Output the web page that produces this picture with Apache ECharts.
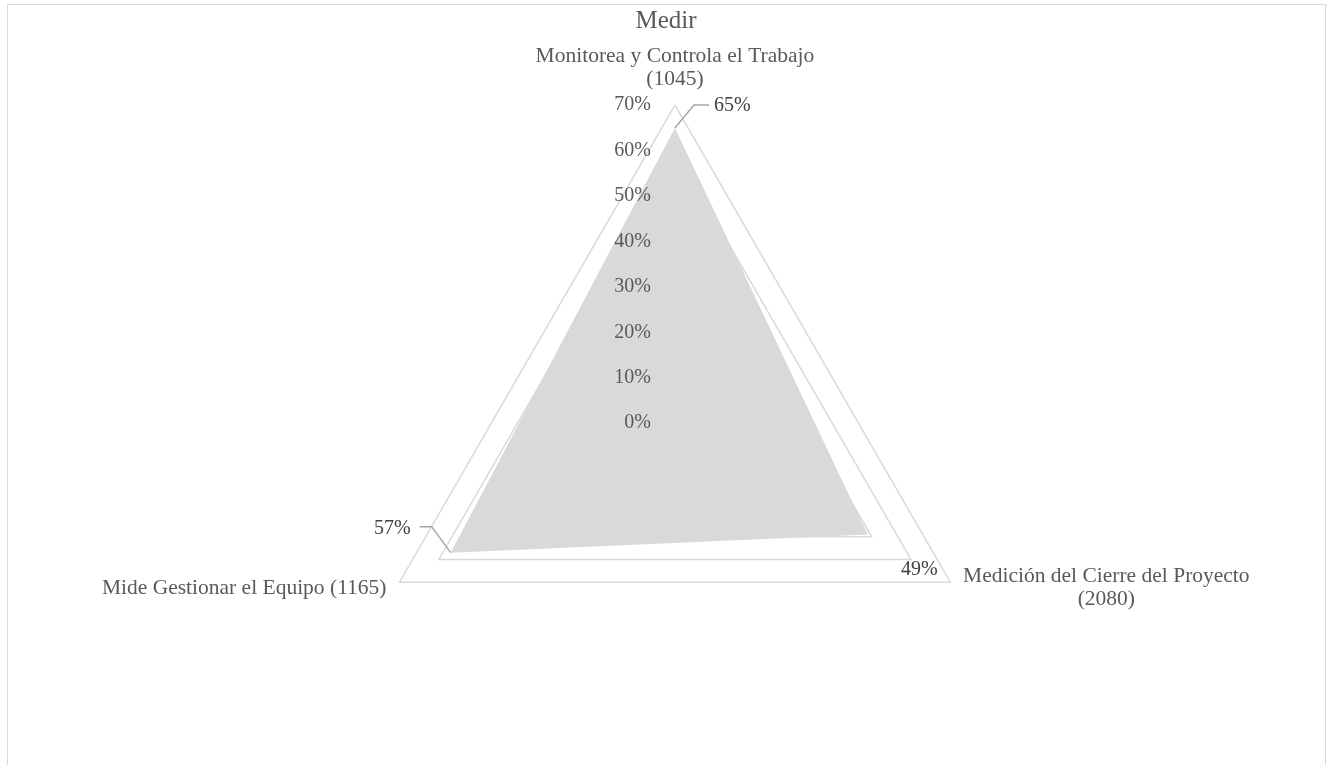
<!DOCTYPE html>
<html>
<head>
<meta charset="utf-8">
<script src="https://cdn.jsdelivr.net/npm/echarts@6/dist/echarts.min.js"></script>
<style>
  html, body { margin: 0; padding: 0; background: #fff; overflow: hidden; }
  #chart { position: absolute; left: 0; top: 0; width: 1327px; height: 765px; }
  #frame { position: absolute; left: 7px; top: 4px; width: 1319px; height: 820px;
           border: 1.5px solid #d9d9d9; box-sizing: border-box; pointer-events: none; }
</style>
</head>
<body>
<div id="chart"></div>
<div id="frame"></div>
<script>
// Chart content
const chartTitle = 'Medir';
const indicatorNames = [
  'Monitorea y Controla el Trabajo\n(1045)',
  'Mide Gestionar el Equipo (1165)',
  'Medición del Cierre del Proyecto\n(2080)'
];
const shareValues = [65, 57, 49];   // percent
const axisMin = 0;
const axisMax = 70;
const axisSplits = 7;

const FONT = '"Liberation Serif", "Times New Roman", serif';
const GRID = '#d9d9d9';
const AXIS_TEXT = '#595959';
const LABEL_TEXT = '#404040';
const LEADER = '#a6a6a6';

const RADAR_CENTER = ['50.86%', '55.32%'];
const RADAR_RADIUS = 318;

const indicators = indicatorNames.map((n) => ({ name: n, min: axisMin, max: axisMax }));

const chart = echarts.init(document.getElementById('chart'), null, { renderer: 'canvas' });

chart.setOption({
  backgroundColor: '#fff',
  animation: false,
  title: {
    text: chartTitle,
    left: 661,
    textAlign: 'center',
    top: 4,
    textStyle: { fontFamily: FONT, fontSize: 25, fontWeight: 'normal', color: AXIS_TEXT }
  },
  radar: [
    // grid polygons, drawn below the filled area
    {
      z: 0,
      center: RADAR_CENTER, radius: RADAR_RADIUS, shape: 'polygon', startAngle: 90,
      splitNumber: axisSplits,
      indicator: indicators,
      axisName: { show: false },
      axisLine: { show: false },
      axisTick: { show: false },
      axisLabel: { show: false },
      splitArea: { show: false },
      splitLine: { lineStyle: { color: GRID, width: 1.5 } }
    },
    // percentage tick labels on the vertical axis, drawn over the filled area
    {
      z: 5,
      center: RADAR_CENTER, radius: RADAR_RADIUS, shape: 'polygon', startAngle: 90,
      splitNumber: axisSplits,
      indicator: indicators.map((ind, i) => Object.assign({}, ind, { axisLabel: { show: i === 0 } })),
      axisName: { show: false },
      axisLine: { show: false },
      axisTick: { show: false },
      splitArea: { show: false },
      splitLine: { show: false },
      axisLabel: {
        show: true,
        formatter: '{value}%',
        fontFamily: FONT,
        fontSize: 20,
        color: AXIS_TEXT,
        margin: 24,
        padding: [4, 0, 0, 0]
      }
    }
  ],
  series: [{
    type: 'radar',
    radarIndex: 0,
    z: 2,
    symbol: 'none',
    lineStyle: { width: 0, opacity: 0 },
    areaStyle: { color: '#d9d9d9', opacity: 1 },
    data: [{ value: shareValues, name: chartTitle }]
  }]
});

// Category names and value labels, placed from the radar's own scale
const radarCS = chart.getModel().getComponent('radar', 0).coordinateSystem;
const vtx = shareValues.map((v, i) => radarCS.dataToPoint(v, i));
const end = indicatorNames.map((_, i) => radarCS.dataToPoint(axisMax, i));

const nameStyle = { fontFamily: FONT, fontSize: 21.5, fill: AXIS_TEXT, lineHeight: 23 };
const valStyle = { fontFamily: FONT, fontSize: 20, fill: LABEL_TEXT };

const graphics = [
  // indicator names
  { type: 'text', x: end[0][0], y: end[0][1] - 14,
    style: Object.assign({ text: indicatorNames[0], align: 'center', verticalAlign: 'bottom' }, nameStyle) },
  { type: 'text', x: end[1][0] - 13, y: end[1][1] + 6,
    style: Object.assign({ text: indicatorNames[1], align: 'right', verticalAlign: 'middle' }, nameStyle) },
  { type: 'text', x: end[2][0] + 156, y: end[2][1] - 17,
    style: Object.assign({ text: indicatorNames[2], align: 'center', verticalAlign: 'top' }, nameStyle) },

  // value labels with leader lines
  { type: 'polyline', shape: { points: [vtx[0], [vtx[0][0] + 19, vtx[0][1] - 23], [vtx[0][0] + 34, vtx[0][1] - 23]] },
    style: { stroke: LEADER, lineWidth: 1.5, fill: null } },
  { type: 'text', x: vtx[0][0] + 39, y: vtx[0][1] - 22,
    style: Object.assign({ text: shareValues[0] + '%', align: 'left', verticalAlign: 'middle' }, valStyle) },

  { type: 'polyline', shape: { points: [vtx[1], [vtx[1][0] - 19, vtx[1][1] - 26], [vtx[1][0] - 31, vtx[1][1] - 26]] },
    style: { stroke: LEADER, lineWidth: 1.5, fill: null } },
  { type: 'text', x: vtx[1][0] - 40, y: vtx[1][1] - 24,
    style: Object.assign({ text: shareValues[1] + '%', align: 'right', verticalAlign: 'middle' }, valStyle) },

  { type: 'text', x: vtx[2][0] + 70, y: vtx[2][1] + 35,
    style: Object.assign({ text: shareValues[2] + '%', align: 'right', verticalAlign: 'middle' }, valStyle) }
];

chart.setOption({ graphic: graphics });
</script>
</body>
</html>
